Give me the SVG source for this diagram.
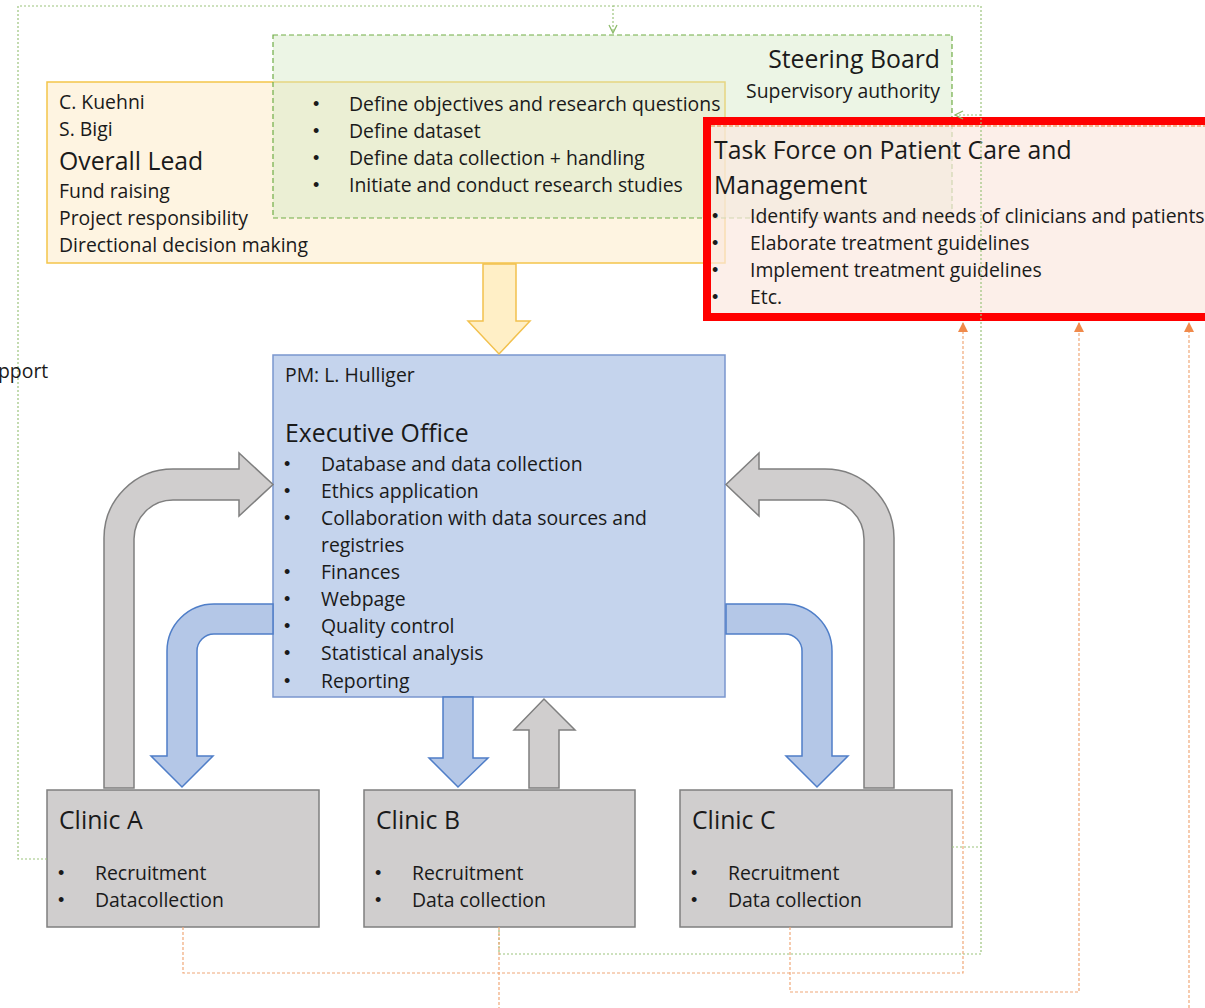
<svg xmlns="http://www.w3.org/2000/svg" width="1205" height="1008" viewBox="0 0 1205 1008">
<style>
text{font-family:"Open Sans",Lato,"Liberation Sans",sans-serif;fill:#1a1a1a}
.s{font-size:19.4px}
.l{font-size:24.8px}
.b{font-size:18px;font-family:"Liberation Sans",Arial,sans-serif}
.gd{fill:none;stroke:#9cc47c;stroke-width:1.2;stroke-dasharray:2 2}
.od{fill:none;stroke:#f0a878;stroke-width:1.2;stroke-dasharray:3 2}
.gray{fill:#d0cece;stroke:#7f7f7f;stroke-width:1.5}
.blue{fill:#b4c7e7;stroke:#4f7ec8;stroke-width:1.5}
</style>
<defs>
<marker id="ga" viewBox="0 0 10 10" refX="9" refY="5" markerWidth="10" markerHeight="10" markerUnits="userSpaceOnUse" orient="auto"><path d="M1,1 L9,5 L1,9" fill="none" stroke="#8dbb6a" stroke-width="1.3"/></marker>
<marker id="oa" viewBox="0 0 10 10" refX="9" refY="5" markerWidth="10" markerHeight="10" markerUnits="userSpaceOnUse" orient="auto"><path d="M0,0 L10,5 L0,10 Z" fill="#f08a4b"/></marker>
</defs>

<g id="overall-lead">
<rect x="47" y="82" width="678" height="181" fill="#fef4e1" stroke="#f4c54a" stroke-width="1.5"/>
<text class="s" x="59" y="109">C. Kuehni</text>
<text class="s" x="59" y="136">S. Bigi</text>
<text class="l" x="59" y="170">Overall Lead</text>
<text class="s" x="59" y="198">Fund raising</text>
<text class="s" x="59" y="225">Project responsibility</text>
<text class="s" x="59" y="252">Directional decision making</text>
</g>

<g id="steering-board">
<rect x="273" y="35" width="679" height="183" fill="#d5e8c6" fill-opacity="0.45" stroke="#70ad47" stroke-width="1.2" stroke-dasharray="5 3"/>
<text class="l" x="940" y="68" text-anchor="end">Steering Board</text>
<text class="s" x="940" y="98" text-anchor="end">Supervisory authority</text>
<text class="b" x="313" y="110">•</text><text class="s" x="349" y="111">Define objectives and research questions</text>
<text class="b" x="313" y="137">•</text><text class="s" x="349" y="138">Define dataset</text>
<text class="b" x="313" y="164">•</text><text class="s" x="349" y="165">Define data collection + handling</text>
<text class="b" x="313" y="191">•</text><text class="s" x="349" y="192">Initiate and conduct research studies</text>
</g>

<g id="task-force">
<rect x="707" y="121" width="510" height="196" fill="#fbe8e0" fill-opacity="0.7" stroke="#ff0000" stroke-width="8"/>
<line x1="711" y1="126" x2="1205" y2="126" stroke="#ed7d31" stroke-width="1" stroke-dasharray="4 2"/>
<text class="l" x="714" y="159">Task Force on Patient Care and</text>
<text class="l" x="714" y="194">Management</text>
<text class="b" x="712" y="222">•</text><text class="s" x="750" y="223">Identify wants and needs of clinicians and patients</text>
<text class="b" x="712" y="249">•</text><text class="s" x="750" y="250">Elaborate treatment guidelines</text>
<text class="b" x="712" y="276">•</text><text class="s" x="750" y="277">Implement treatment guidelines</text>
<text class="b" x="712" y="303">•</text><text class="s" x="750" y="304">Etc.</text>
</g>

<g id="executive-office">
<rect x="273" y="355" width="452" height="342" fill="#c5d4ed" stroke="#7a96ce" stroke-width="1.5"/>
<text class="s" x="285" y="382">PM: L. Hulliger</text>
<text class="l" x="285" y="442">Executive Office</text>
<text class="b" x="284" y="470">•</text><text class="s" x="321" y="471">Database and data collection</text>
<text class="b" x="284" y="497">•</text><text class="s" x="321" y="498">Ethics application</text>
<text class="b" x="284" y="524">•</text><text class="s" x="321" y="525">Collaboration with data sources and</text>
<text class="s" x="321" y="552">registries</text>
<text class="b" x="284" y="578">•</text><text class="s" x="321" y="579">Finances</text>
<text class="b" x="284" y="605">•</text><text class="s" x="321" y="606">Webpage</text>
<text class="b" x="284" y="632">•</text><text class="s" x="321" y="633">Quality control</text>
<text class="b" x="284" y="659">•</text><text class="s" x="321" y="660">Statistical analysis</text>
<text class="b" x="284" y="687">•</text><text class="s" x="321" y="688">Reporting</text>
</g>

<g id="clinic-a">
<rect x="47" y="790" width="272" height="137" class="gray"/>
<text class="l" x="59" y="829">Clinic A</text>
<text class="b" x="58" y="879">•</text><text class="s" x="95" y="880">Recruitment</text>
<text class="b" x="58" y="906">•</text><text class="s" x="95" y="907">Datacollection</text>
</g>
<g id="clinic-b">
<rect x="364" y="790" width="271" height="137" class="gray"/>
<text class="l" x="376" y="829">Clinic B</text>
<text class="b" x="375" y="879">•</text><text class="s" x="412" y="880">Recruitment</text>
<text class="b" x="375" y="906">•</text><text class="s" x="412" y="907">Data collection</text>
</g>
<g id="clinic-c">
<rect x="680" y="790" width="272" height="137" class="gray"/>
<text class="l" x="692" y="829">Clinic C</text>
<text class="b" x="691" y="879">•</text><text class="s" x="728" y="880">Recruitment</text>
<text class="b" x="691" y="906">•</text><text class="s" x="728" y="907">Data collection</text>
</g>

<g id="connectors">
<path d="M483,264 V321 H468 L499,354 L530,321 H516 V264 Z" fill="#ffefc6" stroke="#f2c14e" stroke-width="1.5"/>
<path class="gray" d="M104,788 V538 A69,69 0 0 1 173,469 H239 V453 L273,484.5 L239,516 V500 H173 A39,39 0 0 0 134,539 V788 Z"/>
<path class="gray" d="M894,788 V538 A69,69 0 0 0 825,469 H759 V453 L726,484.5 L759,516 V500 H825 A39,39 0 0 1 864,539 V788 Z"/>
<path class="blue" d="M273,604 H214 A47,47 0 0 0 167,651 V756 H151 L182,787 L213,756 H197 V651 A17,17 0 0 1 214,634 H273 Z"/>
<path class="blue" d="M726,604 H785 A47,47 0 0 1 832,651 V756 H848 L817,787 L786,756 H802 V651 A17,17 0 0 0 785,634 H726 Z"/>
<path class="blue" d="M443,697 V758 H429 L458,787 L488,758 H473 V697 Z"/>
<path class="gray" d="M529,788 V730 H514 L544,699 L575,730 H559 V788 Z"/>

<path class="gd" d="M47,859 H18 V6 H613 V33" marker-end="url(#ga)"/>
<path class="gd" d="M613,6 H981 V954 H499 V927"/>
<path class="gd" d="M952,847 H981"/>
<path class="gd" d="M981,115 H955" marker-end="url(#ga)"/>

<path class="od" d="M183,927 V973 H963 V323" marker-end="url(#oa)"/>
<path class="od" d="M790,927 V992 H1079 V323" marker-end="url(#oa)"/>
<path class="od" d="M499,927 V1015 H1189 V323" marker-end="url(#oa)"/>
</g>

<text class="s" x="-2" y="378">pport</text>
</svg>
